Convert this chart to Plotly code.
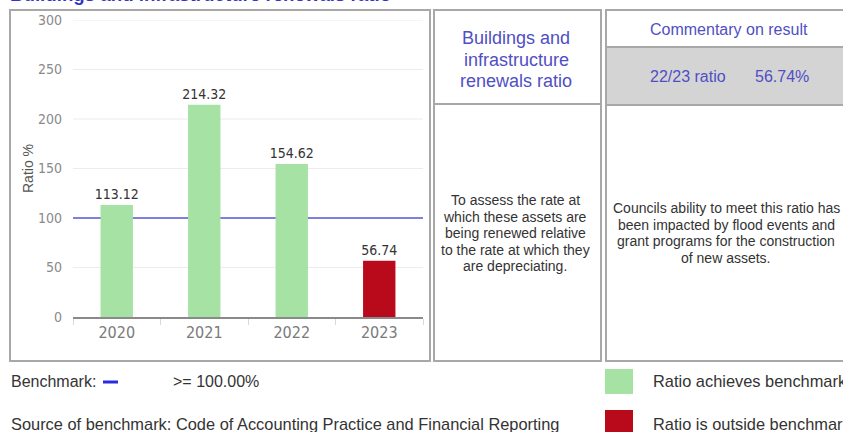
import plotly.graph_objs as go

W, H = 843, 432

years = ["2020", "2021", "2022", "2023"]
ratios = [113.12, 214.32, 154.62, 56.74]
benchmark = 100
y_ticks = [0, 50, 100, 150, 200, 250, 300]

purpose_lines = ["To assess the rate at", "which these assets are", "being renewed relative",
                 "to the rate at which they", "are depreciating."]
comment_lines = ["Councils ability to meet this ratio has", "been impacted by flood events and",
                 "grant programs for the construction", "of new assets."]
panel_title_lines = ["Buildings and", "infrastructure", "renewals ratio"]

GREEN = "#a6e2a4"
RED = "#b80a1b"
PURPLE = "#4f4fc4"
DARK = "#333333"
SANS = "Liberation Sans, Arial, sans-serif"
NARROW = "DejaVu Sans Condensed, sans-serif"


def px(x):
    return x / W


def py(y):
    return 1 - y / H


bar_colors = [GREEN if v >= benchmark else RED for v in ratios]

fig = go.Figure(go.Bar(
    x=years,
    y=ratios,
    marker=dict(color=bar_colors, line=dict(width=0)),
    text=[f"{v:.2f}" for v in ratios],
    textposition="outside",
    constraintext="none",
    textfont=dict(family=NARROW, size=14, color=DARK),
    cliponaxis=False,
    hoverinfo="x+y",
))

shapes = []


def box(x0, y0, x1, y1, fill="rgba(0,0,0,0)", edge="#a8a8a8"):
    shapes.append(dict(type="rect", xref="paper", yref="paper",
                       x0=px(x0), x1=px(x1), y0=py(y0), y1=py(y1),
                       fillcolor=fill, layer="below",
                       line=dict(color=edge, width=2 if edge else 0)))


# panels
box(10, 10, 430, 361)
box(434, 10, 601, 361)
box(606, 10, 845, 361)
shapes.append(dict(type="line", xref="paper", yref="paper", x0=px(434), x1=px(601),
                   y0=py(104), y1=py(104), line=dict(color="#a8a8a8", width=2)))
box(606, 47, 845, 105, fill="#d4d4d4")
# legend squares
box(605, 369, 633, 394, fill=GREEN, edge=None)
box(605, 410, 633, 432, fill=RED, edge=None)
# benchmark legend dash
shapes.append(dict(type="line", xref="paper", yref="paper", x0=px(103), x1=px(118),
                   y0=py(382), y1=py(382), line=dict(color="#2a2ae0", width=3)))

# gridlines as shapes so the benchmark line can sit on top of them
for t in y_ticks[1:]:
    shapes.append(dict(type="line", xref="x domain", yref="y", x0=0, x1=1, y0=t, y1=t,
                       layer="below", line=dict(color="#ececec", width=1)))
# benchmark line behind the bars
shapes.append(dict(type="line", xref="x domain", yref="y", x0=0, x1=1,
                   y0=benchmark, y1=benchmark, layer="below",
                   line=dict(color="#7f7fe2", width=2)))

annotations = []


def label(x, y, text, size, color=DARK, xanchor="left", bold=False, family=SANS):
    if bold:
        text = f"<b>{text}</b>"
    annotations.append(dict(xref="paper", yref="paper", x=px(x), y=py(y),
                            text=text, showarrow=False, xanchor=xanchor,
                            yanchor="middle",
                            font=dict(family=family, size=size, color=color)))


label(8, -5, "Buildings and infrastructure renewals ratio", 18.7, color="#3434c8", bold=True)
for i, line in enumerate(panel_title_lines):
    label(516, 38 + 21.5 * i, line, 18, color=PURPLE, xanchor="center")
label(729, 30, "Commentary on result", 16, color=PURPLE, xanchor="center")
label(648, 77, "22/23 ratio", 16, color=PURPLE)
label(753, 77, "56.74%", 16, color=PURPLE)
for i, line in enumerate(purpose_lines):
    label(515, 200 + 16.6 * i, line, 14, xanchor="center")
for i, line in enumerate(comment_lines):
    label(726, 208 + 16.6 * i, line, 14, xanchor="center")
label(9, 381, "Benchmark:", 16)
label(171, 381, ">= 100.00%", 16)
label(9, 424, "Source of benchmark: Code of Accounting Practice and Financial Reporting", 16.4)
label(651, 381, "Ratio achieves benchmark", 16.4)
label(651, 424, "Ratio is outside benchmark", 16.4)
# y-axis title
annotations.append(dict(xref="paper", yref="paper", x=px(28), y=py(168), text="Ratio %",
                        textangle=-90, showarrow=False, xanchor="center", yanchor="middle",
                        font=dict(family=SANS, size=14, color="#555555")))

fig.update_layout(
    width=W,
    height=H,
    autosize=False,
    margin=dict(l=0, r=0, t=0, b=0, autoexpand=False),
    paper_bgcolor="white",
    plot_bgcolor="white",
    showlegend=False,
    bargap=0.63,
    shapes=shapes,
    annotations=annotations,
    xaxis=dict(
        domain=[px(73), px(423)],
        showline=True, linecolor="#8a8a8a", linewidth=1.5,
        ticks="outside", tickson="boundaries", ticklen=6, tickcolor="#d0dae8",
        tickfont=dict(family=NARROW, size=16, color="#7a7a7a"),
        showgrid=False,
    ),
    yaxis=dict(
        domain=[py(317), py(20)],
        range=[0, 300],
        tickvals=y_ticks,
        tickfont=dict(family=NARROW, size=14, color="#8a8a8a"),
        ticklabelstandoff=10,
        showgrid=False, zeroline=False, showline=False, ticks="",
    ),
)

fig.write_html(
    "out.html",
    config={"displayModeBar": False},
    post_script="document.documentElement.style.margin='0';"
                "document.body.style.margin='0';"
                "document.body.style.overflow='hidden';",
)
